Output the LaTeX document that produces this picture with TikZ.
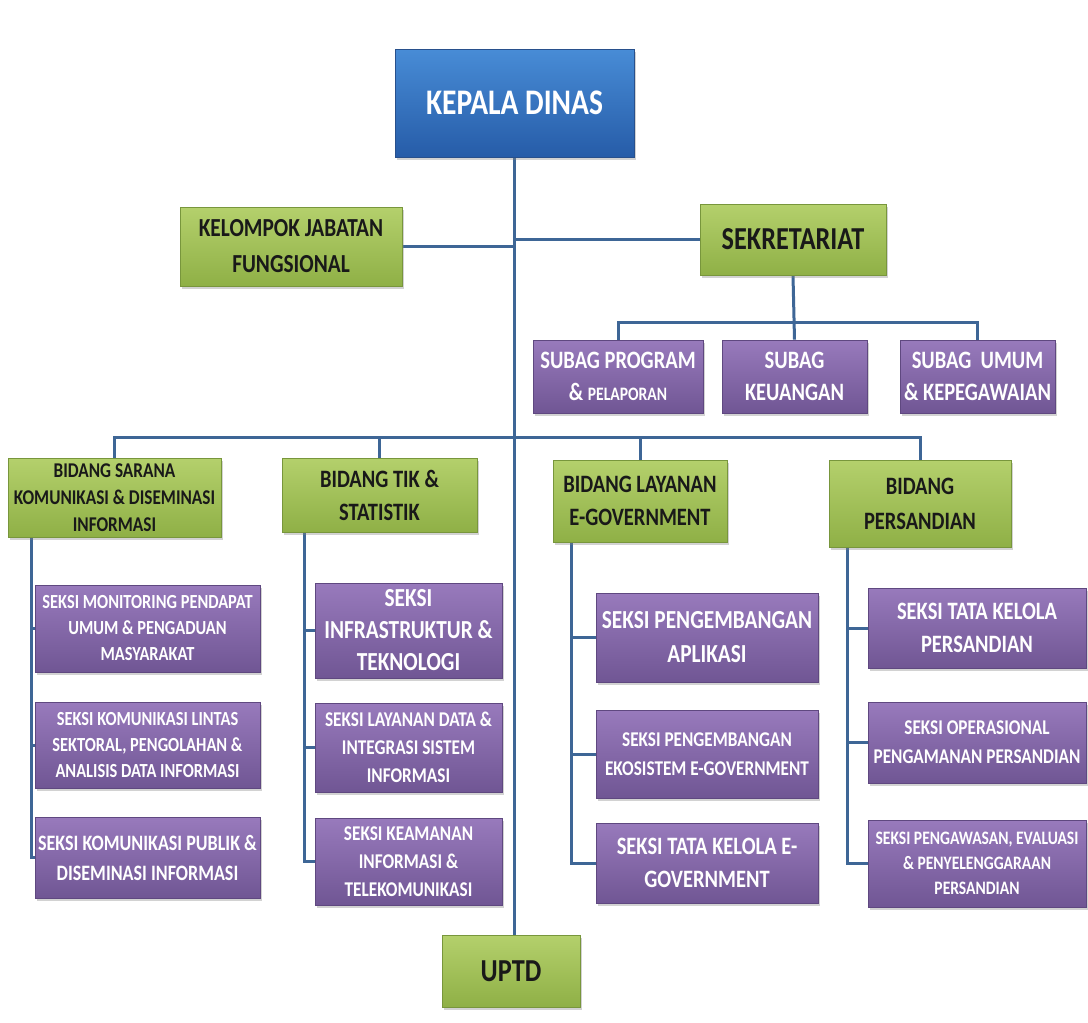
\documentclass[tikz,border=0pt]{standalone}
\usepackage{fontspec}
\setmainfont{Carlito}[FakeStretch=0.82]
\usetikzlibrary{shadows,backgrounds}
\definecolor{bluetop}{RGB}{72,140,214}
\definecolor{bluebot}{RGB}{38,92,168}
\definecolor{blueedge}{RGB}{40,80,140}
\definecolor{greentop}{RGB}{180,208,108}
\definecolor{greenbot}{RGB}{143,176,70}
\definecolor{greenedge}{RGB}{120,150,60}
\definecolor{purptop}{RGB}{152,122,188}
\definecolor{purpbot}{RGB}{112,86,148}
\definecolor{purpedge}{RGB}{95,72,128}
\definecolor{linecol}{RGB}{62,102,150}
\definecolor{darktext}{RGB}{25,25,25}
\begin{document}
\begin{tikzpicture}[x=1pt,y=-1pt,
  fs/.style 2 args={font=\bfseries\fontsize{#1}{#2}\selectfont},
  basebox/.style={rectangle, inner sep=0pt, align=center,
    drop shadow={opacity=0.35, shadow xshift=2pt, shadow yshift=-3pt}},
  bluebox/.style={basebox, top color=bluetop, bottom color=bluebot, draw=blueedge, line width=0.8pt, text=white},
  greenbox/.style={basebox, top color=greentop, bottom color=greenbot, draw=greenedge, line width=0.8pt, text=darktext},
  purpbox/.style={basebox, top color=purptop, bottom color=purpbot, draw=purpedge, line width=0.8pt, text=white},
  conn/.style={draw=linecol, line width=3pt}
]
\useasboundingbox (0,0) rectangle (1088,1023);

% top level
\node[bluebox, minimum width=239, minimum height=108, fs={36}{42}] (kepala) at (514.5,103) {KEPALA DINAS};
\node[greenbox, minimum width=222, minimum height=79, fs={26}{36}] (kjf) at (291,246.5) {KELOMPOK JABATAN\\FUNGSIONAL};
\node[greenbox, minimum width=186, minimum height=71, fs={32}{38}] (sek) at (793,239.5) {SEKRETARIAT};

% subag
\node[purpbox, minimum width=170, minimum height=73, fs={25}{32}] (sp) at (618,376.5) {SUBAG PROGRAM\\\& {\fontsize{19}{22}\selectfont PELAPORAN}};
\node[purpbox, minimum width=145, minimum height=73, fs={25}{32}] (sk) at (794.5,376.5) {SUBAG\\KEUANGAN};
\node[purpbox, minimum width=155, minimum height=73, fs={25}{32}] (su) at (977.5,376.5) {SUBAG\ \ UMUM\\\& KEPEGAWAIAN};

% bidang
\node[greenbox, minimum width=213, minimum height=79, fs={21}{27}] (bsar) at (114.5,497.5) {BIDANG SARANA\\KOMUNIKASI \& DISEMINASI\\INFORMASI};
\node[greenbox, minimum width=195, minimum height=74, fs={25}{33}] (btik) at (379.5,495) {BIDANG TIK \&\\STATISTIK};
\node[greenbox, minimum width=174, minimum height=82, fs={25}{33}] (blay) at (640,501) {BIDANG LAYANAN\\E-GOVERNMENT};
\node[greenbox, minimum width=182, minimum height=87, fs={25}{35}] (bper) at (920,503.5) {BIDANG\\PERSANDIAN};

% seksi sarana
\node[purpbox, minimum width=225, minimum height=87, fs={20}{26}] (sar1) at (147.5,628.5) {SEKSI MONITORING PENDAPAT\\UMUM \& PENGADUAN\\MASYARAKAT};
\node[purpbox, minimum width=225, minimum height=86, fs={20}{26}] (sar2) at (147.5,745) {SEKSI KOMUNIKASI LINTAS\\SEKTORAL, PENGOLAHAN \&\\ANALISIS DATA INFORMASI};
\node[purpbox, minimum width=225, minimum height=81, fs={22}{30}] (sar3) at (147.5,857.5) {SEKSI KOMUNIKASI PUBLIK \&\\DISEMINASI INFORMASI};

% seksi tik
\node[purpbox, minimum width=187, minimum height=95, fs={26}{32}] (tik1) at (408.5,630.5) {SEKSI\\INFRASTRUKTUR \&\\TEKNOLOGI};
\node[purpbox, minimum width=187, minimum height=89, fs={21}{28}] (tik2) at (408.5,747.5) {SEKSI LAYANAN DATA \&\\INTEGRASI SISTEM\\INFORMASI};
\node[purpbox, minimum width=187, minimum height=87, fs={21}{28}] (tik3) at (408.5,861.5) {SEKSI KEAMANAN\\INFORMASI \&\\TELEKOMUNIKASI};

% seksi layanan
\node[purpbox, minimum width=222, minimum height=89, fs={26}{34}] (lay1) at (707,637.5) {SEKSI PENGEMBANGAN\\APLIKASI};
\node[purpbox, minimum width=222, minimum height=88, fs={21}{29}] (lay2) at (707,754) {SEKSI PENGEMBANGAN\\EKOSISTEM E-GOVERNMENT};
\node[purpbox, minimum width=222, minimum height=80, fs={25}{33}] (lay3) at (707,863) {SEKSI TATA KELOLA E-\\GOVERNMENT};

% seksi persandian
\node[purpbox, minimum width=218, minimum height=80, fs={25}{33}] (per1) at (977,628) {SEKSI TATA KELOLA\\PERSANDIAN};
\node[purpbox, minimum width=218, minimum height=81, fs={21}{29}] (per2) at (977,742.5) {SEKSI OPERASIONAL\\PENGAMANAN PERSANDIAN};
\node[purpbox, minimum width=218, minimum height=87, fs={19}{25}] (per3) at (977,863.5) {SEKSI PENGAWASAN, EVALUASI\\\& PENYELENGGARAAN\\PERSANDIAN};

% uptd
\node[greenbox, minimum width=138, minimum height=72, fs={32}{38}] (uptd) at (511,971) {UPTD};

% helper coordinates
\coordinate (sbus) at (0,322);
\coordinate (mbus) at (0,437);
\coordinate (sarx) at (31,0);
\coordinate (tikx) at (304,0);
\coordinate (layx) at (571,0);
\coordinate (perx) at (847,0);

\begin{scope}[on background layer]
\fill[white] (0,0) rectangle (1088,1023);
% trunk
\draw[conn] (kepala.south) -- (kepala.south |- uptd.north);
\draw[conn] (kjf.east) -- (kjf.east -| kepala.south);
\draw[conn] (sek.west) -- (sek.west -| kepala.south);
% sekretariat
\draw[conn] (sek.south) -- (sk.north);
\draw[conn] (sp.north) -- (sp.north |- sbus) -- (su.north |- sbus) -- (su.north);
% main bus
\draw[conn] (bsar.north) -- (bsar.north |- mbus) -- (bper.north |- mbus) -- (bper.north);
\draw[conn] (btik.north) -- (btik.north |- mbus);
\draw[conn] (blay.north) -- (blay.north |- mbus);
% sarana
\draw[conn] (sarx |- bsar.south) -- (sarx |- sar3.west) -- (sar3.west);
\draw[conn] (sarx |- sar1.west) -- (sar1.west);
\draw[conn] (sarx |- sar2.west) -- (sar2.west);
% tik
\draw[conn] (tikx |- btik.south) -- (tikx |- tik3.west) -- (tik3.west);
\draw[conn] (tikx |- tik1.west) -- (tik1.west);
\draw[conn] (tikx |- tik2.west) -- (tik2.west);
% layanan
\draw[conn] (layx |- blay.south) -- (layx |- lay3.west) -- (lay3.west);
\draw[conn] (layx |- lay1.west) -- (lay1.west);
\draw[conn] (layx |- lay2.west) -- (lay2.west);
% persandian
\draw[conn] (perx |- bper.south) -- (perx |- per3.west) -- (per3.west);
\draw[conn] (perx |- per1.west) -- (per1.west);
\draw[conn] (perx |- per2.west) -- (per2.west);
\end{scope}
\end{tikzpicture}
\end{document}
